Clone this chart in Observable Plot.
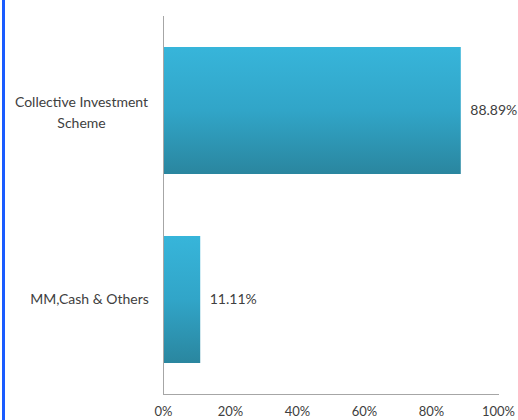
<!DOCTYPE html>
<html>
<head>
<meta charset="utf-8">
<script src="https://cdn.jsdelivr.net/npm/d3@7"></script>
<script src="https://cdn.jsdelivr.net/npm/@observablehq/plot@0.6"></script>
<style>
  html, body { margin: 0; padding: 0; background: #fff; }
  #wrap { position: relative; width: 518px; height: 420px; overflow: hidden; }
  #edge { position: absolute; left: 2px; top: 0; width: 3px; height: 420px; background: #1a5cff; }
  #chart { position: absolute; left: 0; top: 0; }
</style>
</head>
<body>
<div id="wrap"><div id="edge"></div><div id="chart"></div></div>
<script>
const categories = ["Collective Investment Scheme", "MM,Cash & Others"];
const displayLabels = ["Collective Investment\nScheme", "MM,Cash & Others"];
const values = [88.89, 11.11];
const valueLabels = ["88.89%", "11.11%"];
const xTicks = [0, 20, 40, 60, 80, 100];

const data = categories.map((c, i) => ({category: c, label: displayLabels[i], value: values[i], valueLabel: valueLabels[i]}));

const font = "Lato, 'Open Sans', sans-serif";
const textColor = "#404040";

const plot = Plot.plot({
  width: 518,
  height: 420,
  marginTop: 16,
  marginBottom: 26,
  marginLeft: 163,
  marginRight: 20,
  style: {fontFamily: font, fontSize: "14px", color: textColor, background: "transparent", overflow: "visible"},
  x: {domain: [0, 100], ticks: xTicks, tickFormat: d => d + "%"},
  y: {domain: categories, paddingInner: 0.33, paddingOuter: 0.165},
  marks: [
    Plot.barX(data, {
      x: "value", y: "category", fill: "url(#barGrad)",
      style: {filter: "drop-shadow(1px 2px 1.5px rgba(0,0,0,0.28))"}
    }),
    Plot.frame({anchor: "left", stroke: "#a6a6a6"}),
    Plot.frame({anchor: "bottom", stroke: "#a6a6a6"}),
    Plot.axisX({ticks: xTicks, tickFormat: d => d + "%", tickSize: 0, tickPadding: 12, fontSize: 13, fill: textColor, label: null}),
    Plot.axisY({ticks: [], label: null, tickSize: 0}),
    Plot.text(data.filter((d, i) => i === 0), {
      x: 0, y: "category", text: "label", textAnchor: "middle", dx: -82, lineHeight: 1.45, fill: textColor, fontSize: 14
    }),
    Plot.text(data.filter((d, i) => i === 1), {
      x: 0, y: "category", text: "label", textAnchor: "middle", dx: -74, fill: textColor, fontSize: 14
    }),
    Plot.text(data, {
      x: "value", y: "category", text: "valueLabel", textAnchor: "start", dx: 9, fill: textColor, fontSize: 14
    })
  ]
});

// gradient definition for the bars
const ns = "http://www.w3.org/2000/svg";
const defs = document.createElementNS(ns, "defs");
const grad = document.createElementNS(ns, "linearGradient");
grad.setAttribute("id", "barGrad");
grad.setAttribute("x1", "0"); grad.setAttribute("y1", "0");
grad.setAttribute("x2", "0"); grad.setAttribute("y2", "1");
[["0%", "#37b5da"], ["50%", "#31a5c8"], ["100%", "#2a869f"]].forEach(([o, c]) => {
  const s = document.createElementNS(ns, "stop");
  s.setAttribute("offset", o); s.setAttribute("stop-color", c);
  grad.appendChild(s);
});
defs.appendChild(grad);
plot.insertBefore(defs, plot.firstChild);

document.getElementById("chart").appendChild(plot);
</script>
</body>
</html>
